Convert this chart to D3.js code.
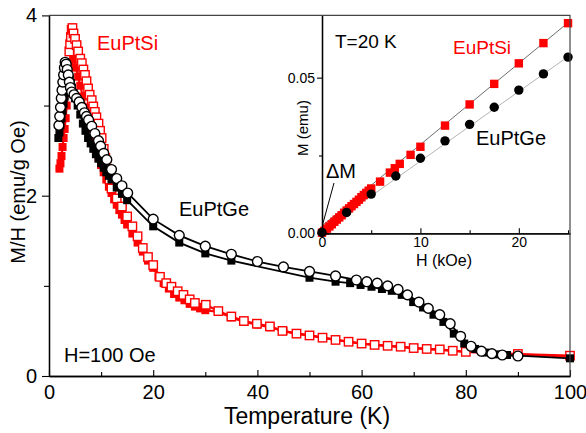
<!DOCTYPE html>
<html>
<head>
<meta charset="utf-8">
<script src="https://cdn.jsdelivr.net/npm/d3@7"></script>
<style>
  body { margin: 0; background: #fff; }
  svg text { font-family: "Liberation Sans", Arial, sans-serif; }
</style>
</head>
<body>
<svg id="chart" width="586" height="433"></svg>
<script>
// ---- data ----
// EuPtGe, filled squares (ZFC)
const geZfc = [[1.8,2.64],[2.0,2.70],[2.2,2.78],[2.4,2.86],[2.6,2.94],[2.8,3.02],[3.0,3.10],[3.2,3.17],[3.4,3.23],[3.6,3.28],[3.8,3.31],[4.0,3.30],[4.2,3.25],[4.4,3.20],[4.7,3.14],[5.0,3.08],[5.5,3.00],[6.0,2.90],[6.5,2.80],[7.0,2.72],[7.5,2.64],[8.0,2.58],[8.5,2.52],[9.0,2.46],[9.5,2.41],[10,2.36],[10.5,2.31],[11,2.26],[11.5,2.22],[12,2.18],[13,2.09],[14,2.02],[15,1.95],[20,1.66],[25,1.48],[30,1.36],[35,1.28],[50,1.09],[55,1.046],[57.8,1.03],[59.8,1.01],[61.9,0.99],[63.9,0.965],[65.8,0.945],[67.7,0.90],[69.9,0.82],[71.8,0.76],[73.8,0.68],[75.7,0.60],[77.7,0.47],[79.7,0.36],[81.8,0.30],[83.7,0.26],[85.9,0.24],[87.9,0.233],[100,0.196]];
// EuPtGe, open circles (FC)
const geFc = [[1.9,2.78],[2.05,2.88],[2.2,2.98],[2.35,3.08],[2.5,3.17],[2.65,3.26],[2.8,3.34],[2.95,3.42],[3.1,3.48],[3.3,3.46],[3.5,3.40],[3.7,3.34],[3.9,3.26],[4.1,3.20],[4.35,3.15],[4.8,3.12],[5.3,3.08],[5.8,3.04],[6.3,2.98],[6.8,2.92],[7.2,2.88],[7.6,2.84],[8.2,2.77],[8.8,2.69],[9.5,2.61],[9.9,2.55],[10.5,2.47],[11.1,2.40],[12,2.29],[13,2.19],[14,2.11],[15.1,2.03],[20,1.74],[25,1.56],[30,1.44],[35,1.35],[40,1.27],[45,1.21],[50,1.16],[55,1.11],[59,1.065],[61,1.046],[63,1.03],[65,1.0],[67,0.96],[68.8,0.90],[71,0.82],[72.8,0.75],[75,0.68],[77,0.58],[79,0.44],[81,0.33],[83,0.275],[85,0.248],[87,0.233],[90,0.222]];
// EuPtSi, filled squares (ZFC)
const siZfc = [[2.0,2.30],[2.2,2.36],[2.4,2.44],[2.6,2.54],[2.8,2.64],[3.0,2.74],[3.2,2.86],[3.4,3.00],[3.6,3.14],[3.8,3.30],[4.0,3.48],[4.2,3.62],[4.4,3.70],[4.6,3.62],[4.8,3.52],[5.2,3.42],[5.6,3.32],[6.0,3.22],[6.5,3.10],[7.0,2.98],[7.5,2.86],[8.0,2.74],[8.5,2.62],[9.0,2.52],[9.5,2.42],[10,2.34],[10.5,2.26],[11,2.18],[11.5,2.10],[12,2.03],[12.5,1.96],[13,1.90],[13.5,1.84],[14,1.79],[14.5,1.73],[15,1.68],[16,1.58],[17,1.48],[18,1.38],[19,1.28],[20,1.20],[21,1.10],[22,1.03],[23,0.97],[24,0.91],[25,0.87],[26,0.84],[27,0.80],[28,0.77],[29,0.75],[30,0.73],[32.5,0.71],[35,0.65],[37.5,0.60],[40,0.57],[42.5,0.54],[45,0.50],[47.5,0.47],[50,0.45],[55,0.40],[60,0.36],[65,0.335],[70,0.31],[75,0.29],[80,0.27],[90,0.24],[100,0.215]];
// EuPtSi, open squares (FC)
const siFc = [[3.9,3.60],[4.05,3.68],[4.2,3.76],[4.35,3.84],[4.5,3.86],[4.7,3.80],[5.0,3.74],[5.3,3.67],[5.6,3.60],[6.0,3.52],[6.3,3.47],[6.6,3.40],[6.9,3.34],[7.2,3.27],[7.5,3.19],[7.8,3.12],[8.2,3.06],[8.5,2.99],[8.8,2.93],[9.1,2.87],[9.5,2.80],[9.8,2.72],[10.1,2.64],[10.5,2.52],[10.8,2.42],[11.2,2.30],[11.6,2.18],[12,2.08],[13,1.97],[14,1.88],[15,1.77],[16,1.66],[17,1.55],[18,1.42],[19,1.32],[20,1.23],[21.3,1.10],[22.5,1.03],[23.5,0.99],[24.7,0.94],[25.8,0.90],[27,0.85],[28,0.81],[30.1,0.79],[32.5,0.72],[35,0.66],[37.4,0.61],[39.9,0.58],[42.4,0.55],[44.8,0.50],[47.5,0.47],[50,0.45],[52.5,0.425],[55,0.40],[57.5,0.38],[60,0.36],[62.5,0.345],[65,0.335],[67.5,0.325],[70,0.31],[72.5,0.30],[75,0.295],[77.5,0.28],[80,0.268],[90,0.244],[100,0.225]];

// inset, M(H) at T=20 K
const siMH = [[0,0.0002],[0.25,0.0008],[0.5,0.0015],[0.75,0.0022],[1,0.0029],[1.25,0.0037],[1.5,0.0044],[1.75,0.0051],[2,0.0058],[2.25,0.0066],[2.5,0.0073],[2.75,0.0080],[3,0.0087],[3.25,0.0094],[3.5,0.0101],[3.75,0.0108],[4,0.0116],[4.25,0.0123],[4.5,0.0130],[4.75,0.0137],[5,0.0144],[5.9,0.0166],[6.9,0.0195],[7.4,0.0209],[7.9,0.0223],[9,0.0252],[10,0.0278],[12.5,0.0346],[15,0.0414],[17.5,0.0480],[20,0.0546],[22.5,0.0611],[25,0.0675]];
const geMH = [[0,0.0003],[2.5,0.0067],[5,0.0126],[7.5,0.0184],[10,0.0241],[12.5,0.0297],[15,0.0350],[17.5,0.0405],[20,0.0460],[22.5,0.0512],[25,0.0566]];
const siFit = [[0,0.0024],[25.2,0.0682]];
const geFit = [[0,0.0008],[25.2,0.0572]];

const mainXTicks = [0, 20, 40, 60, 80, 100];
const mainXMinor = [10, 30, 50, 70, 90];
const mainYTicks = [0, 2, 4];
const mainYMinor = [1, 3];
const insetXTicks = [0, 10, 20];
const insetXMinor = [5, 15, 25];
const insetYTicks = [0, 0.05];
const insetYMinor = [0.025];

// ---- layout ----
const svg = d3.select("#chart");
const x = d3.scaleLinear().domain([0, 100]).range([49, 570]);
const y = d3.scaleLinear().domain([0, 4]).range([376, 15.4]);

const xi = d3.scaleLinear().domain([0, 25.2]).range([322, 570]);
const yi = d3.scaleLinear().domain([0, 0.07]).range([233.3, 15.4]);

function styleAxis(g, size) {
    g.select(".domain").attr("stroke", "#000").attr("stroke-width", 1.3);
    g.selectAll(".tick line").attr("stroke", "#000").attr("stroke-width", 1.1);
    g.selectAll("text").attr("font-size", size).attr("fill", "#000")
        .attr("font-family", "Liberation Sans, Arial, sans-serif");
}

// main axes
svg.append("g").attr("transform", "translate(0,376)")
    .call(d3.axisBottom(x).tickValues(mainXMinor).tickFormat("").tickSizeInner(-4).tickSizeOuter(0))
    .call(g => styleAxis(g, 20));
svg.append("g").attr("transform", "translate(0,376)")
    .call(d3.axisBottom(x).tickValues(mainXTicks).tickSizeInner(-6).tickSizeOuter(0).tickPadding(9))
    .call(g => styleAxis(g, 20));
svg.append("g").attr("transform", "translate(49,0)")
    .call(d3.axisLeft(y).tickValues(mainYMinor).tickFormat("").tickSizeInner(5).tickSizeOuter(0))
    .call(g => styleAxis(g, 20));
svg.append("g").attr("transform", "translate(49,0)")
    .call(d3.axisLeft(y).tickValues(mainYTicks).tickFormat(d3.format("d")).tickSizeInner(7).tickSizeOuter(0).tickPadding(5))
    .call(g => styleAxis(g, 20));

svg.append("text").attr("x", 307).attr("y", 424).attr("text-anchor", "middle")
    .attr("font-size", 23).text("Temperature (K)");
svg.append("text").attr("transform", "translate(25,192) rotate(-90)").attr("text-anchor", "middle")
    .attr("font-size", 20).text("M/H (emu/g Oe)");

// series
const line = d3.line().x(d => x(d[0])).y(d => y(d[1]));

function drawSeries(data, color, lw, kind) {
    const g = svg.append("g");
    g.append("path").datum(data).attr("d", line)
        .attr("fill", "none").attr("stroke", color).attr("stroke-width", lw);
    if (kind === "fillSq") {
        g.selectAll("rect").data(data).enter().append("rect")
            .attr("x", d => x(d[0]) - 4).attr("y", d => y(d[1]) - 4)
            .attr("width", 8).attr("height", 8).attr("fill", color);
    } else if (kind === "openSq") {
        g.selectAll("rect").data(data).enter().append("rect")
            .attr("x", d => x(d[0]) - 4.2).attr("y", d => y(d[1]) - 4.2)
            .attr("width", 8.4).attr("height", 8.4)
            .attr("fill", "#fff").attr("stroke", color).attr("stroke-width", 1.4);
    } else {
        g.selectAll("circle").data(data).enter().append("circle")
            .attr("cx", d => x(d[0])).attr("cy", d => y(d[1])).attr("r", 4.9)
            .attr("fill", "#fff").attr("stroke", color).attr("stroke-width", 1.4);
    }
}

drawSeries(siZfc, "#ff0000", 2.2, "fillSq");
drawSeries(siFc, "#ff0000", 2.2, "openSq");
drawSeries(geZfc, "#000", 1.8, "fillSq");
drawSeries(geFc, "#000", 1.8, "circle");

svg.append("text").attr("x", 97).attr("y", 50).attr("font-size", 20).attr("fill", "#ff0000").text("EuPtSi");
svg.append("text").attr("x", 179).attr("y", 216).attr("font-size", 20).attr("fill", "#000").text("EuPtGe");
svg.append("text").attr("x", 64).attr("y", 362).attr("font-size", 20).attr("fill", "#000").text("H=100 Oe");

// ---- inset ----
svg.append("rect").attr("x", 322).attr("y", 15.4).attr("width", 248).attr("height", 217.9).attr("fill", "#fff");

const fitLine = d3.line().x(d => xi(d[0])).y(d => yi(d[1]));
svg.append("path").datum(siFit).attr("d", fitLine).attr("stroke", "#6e6e6e").attr("stroke-width", 1).attr("fill", "none");
svg.append("path").datum(geFit).attr("d", fitLine).attr("stroke", "#b4b4b4").attr("stroke-width", 1).attr("fill", "none");

svg.append("g").selectAll("rect").data(siMH).enter().append("rect")
    .attr("x", d => xi(d[0]) - 4.2).attr("y", d => yi(d[1]) - 4.2)
    .attr("width", 8.4).attr("height", 8.4).attr("fill", "#ff0000");
svg.append("g").selectAll("circle").data(geMH).enter().append("circle")
    .attr("cx", d => xi(d[0])).attr("cy", d => yi(d[1])).attr("r", 4.7).attr("fill", "#000");

// inset axes
svg.append("g").attr("transform", "translate(0,233.3)")
    .call(d3.axisBottom(xi).tickValues(insetXMinor).tickFormat("").tickSizeInner(-3).tickSizeOuter(0))
    .call(g => styleAxis(g, 14));
svg.append("g").attr("transform", "translate(0,233.3)")
    .call(d3.axisBottom(xi).tickValues(insetXTicks).tickSizeInner(-5).tickSizeOuter(0).tickPadding(4))
    .call(g => styleAxis(g, 14));
svg.append("g").attr("transform", "translate(322,0)")
    .call(d3.axisLeft(yi).tickValues(insetYMinor).tickFormat("").tickSizeInner(3).tickSizeOuter(0))
    .call(g => styleAxis(g, 14));
svg.append("g").attr("transform", "translate(322,0)")
    .call(d3.axisLeft(yi).tickValues(insetYTicks).tickFormat(d3.format(".2f")).tickSizeInner(5).tickSizeOuter(0).tickPadding(2))
    .call(g => styleAxis(g, 14));

svg.append("text").attr("x", 444).attr("y", 266).attr("text-anchor", "middle").attr("font-size", 16).text("H (kOe)");
svg.append("text").attr("transform", "translate(308,128) rotate(-90)").attr("text-anchor", "middle")
    .attr("font-size", 15).text("M (emu)");

svg.append("text").attr("x", 335).attr("y", 48).attr("font-size", 19).text("T=20 K");
svg.append("text").attr("x", 453).attr("y", 54).attr("font-size", 19).attr("fill", "#ff0000").text("EuPtSi");
svg.append("text").attr("x", 476).attr("y", 145).attr("font-size", 20).text("EuPtGe");
svg.append("text").attr("x", 326).attr("y", 178).attr("font-size", 20).text("\u0394M");
svg.append("line").attr("x1", 334).attr("y1", 183).attr("x2", 322.5).attr("y2", 225)
    .attr("stroke", "#000").attr("stroke-width", 1);

// frame top and right
svg.append("path").attr("d", "M49,15.4H570V376").attr("fill", "none").attr("stroke", "#444").attr("stroke-width", 1.2);
</script>
</body>
</html>
